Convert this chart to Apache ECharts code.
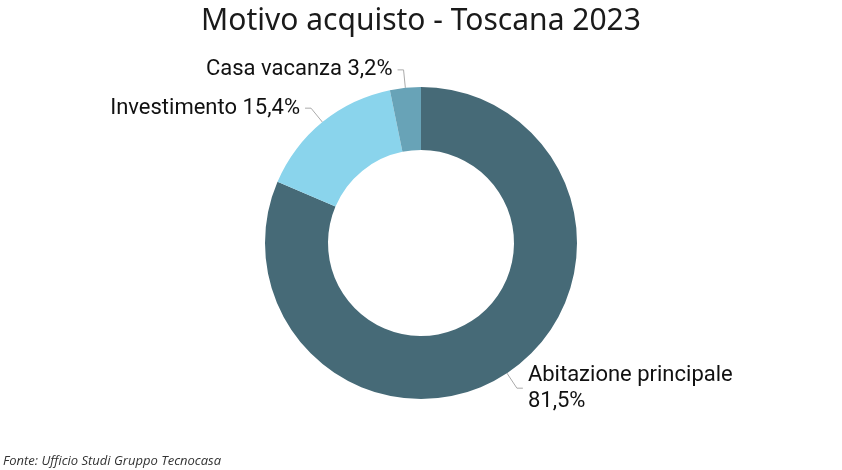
<!DOCTYPE html>
<html>
<head>
<meta charset="utf-8">
<script src="https://cdn.jsdelivr.net/npm/echarts@6/dist/echarts.min.js"></script>
<style>
html,body{margin:0;padding:0;background:#fff;}
#c{width:842px;height:470px;}
</style>
</head>
<body>
<div id="c"></div>
<script>
const categories = ['Abitazione principale', 'Investimento', 'Casa vacanza'];
const values = [81.5, 15.4, 3.2];
const colors = ['#466A77', '#8AD4EC', '#68A3B7'];

const chart = echarts.init(document.getElementById('c'));
const fmt = v => v.toFixed(1).replace('.', ',') + '%';
chart.setOption({
  animation: false,
  title: [{
    text: 'Motivo acquisto - Toscana 2023',
    left: 'center',
    top: 1,
    textStyle: {fontFamily: 'Noto Sans', fontSize: 30, fontWeight: 'normal', color: '#1a1a1a'}
  }, {
    text: 'Fonte: Ufficio Studi Gruppo Tecnocasa',
    left: -2,
    top: 450,
    textStyle: {fontFamily: 'Open Sans', fontStyle: 'italic', fontSize: 13, fontWeight: 'normal', color: '#333'}
  }],
  series: [{
    type: 'pie',
    center: [421, 243],
    radius: [93, 156],
    startAngle: 90,
    clockwise: true,
    avoidLabelOverlap: false,
    data: categories.map((n, i) => ({name: n, value: values[i], itemStyle: {color: colors[i]}})),
    label: {
      show: true,
      fontFamily: 'Roboto',
      fontSize: 22,
      color: '#111',
      lineHeight: 26,
      formatter: p => p.dataIndex === 0 ? p.name + '\n' + fmt(p.value) : p.name + ' ' + fmt(p.value)
    },
    labelLine: {show: true, length: 18, length2: 6, lineStyle: {color: '#aaa', width: 1}},
    emphasis: {disabled: true}
  }]
});
</script>
</body>
</html>
